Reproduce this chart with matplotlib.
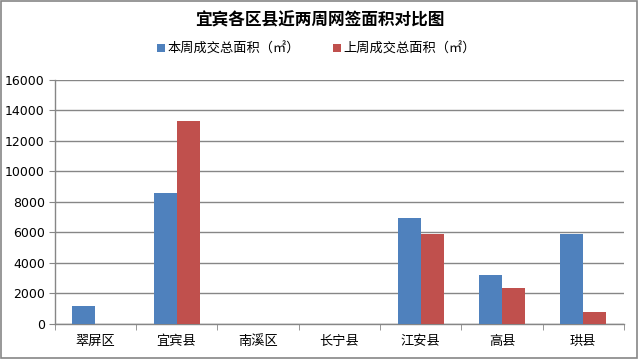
import matplotlib
matplotlib.use("Agg")
import matplotlib.pyplot as plt
from matplotlib.patches import Rectangle
import numpy as np

plt.rcParams['font.family'] = ['Noto Sans CJK SC', 'DejaVu Sans']

categories = ['翠屏区', '宜宾县', '南溪区', '长宁县', '江安县', '高县', '珙县']
this_week = [1200, 8610, 0, 0, 6970, 3210, 5920]
last_week = [0, 13310, 0, 0, 5920, 2340, 770]
series_names = ['本周成交总面积（㎡）', '上周成交总面积（㎡）']
title = '宜宾各区县近两周网签面积对比图'
yticks = [0, 2000, 4000, 6000, 8000, 10000, 12000, 14000, 16000]

fig = plt.figure(figsize=(6.4, 3.6), dpi=100)
ax = fig.add_axes([0.0852, 0.1, 0.975 - 0.0852, 0.7778 - 0.1])

x = np.arange(len(categories))
w = 0.283
ax.bar(x - w / 2, this_week, w, color='#4F81BD', label=series_names[0], zorder=3)
ax.bar(x + w / 2, last_week, w, color='#C0504D', label=series_names[1], zorder=3)

ax.set_xlim(-0.5, len(categories) - 0.5)
ax.set_ylim(0, 16000)
ax.set_yticks(yticks)
ax.set_yticklabels([str(v) for v in yticks], fontsize=9, family='DejaVu Sans')
ax.yaxis.grid(True, color='#868686', linewidth=1.0, zorder=0)
ax.set_axisbelow(True)

ax.set_xticks(x)
ax.set_xticklabels(categories, fontsize=9.5)
ax.set_xticks(np.arange(-0.5, len(categories) + 0.5, 1), minor=True)
ax.tick_params(axis='x', which='major', length=0, pad=8)
ax.tick_params(axis='x', which='minor', length=4, color='#868686', direction='out')
ax.tick_params(axis='y', length=4, color='#868686', direction='out', pad=3)

for s in ['top', 'right']:
    ax.spines[s].set_visible(False)
for s in ['left', 'bottom']:
    ax.spines[s].set_color('#868686')
    ax.spines[s].set_linewidth(1.0)

fig.text(0.5, 1 - 20 / 360, title, ha='center', va='center', fontsize=12, fontweight='bold')

fig.legend(loc='center', bbox_to_anchor=(0.495, 1 - 49 / 360), ncol=2, frameon=False,
           fontsize=9.5, handlelength=0.6, handleheight=0.6, handletextpad=0.2,
           columnspacing=2.5)

fig.patches.append(Rectangle((0.002, 0.006), 0.994, 0.99, transform=fig.transFigure,
                             fill=False, edgecolor='#868686', linewidth=1.2))

fig.savefig('out.png', dpi=100)
